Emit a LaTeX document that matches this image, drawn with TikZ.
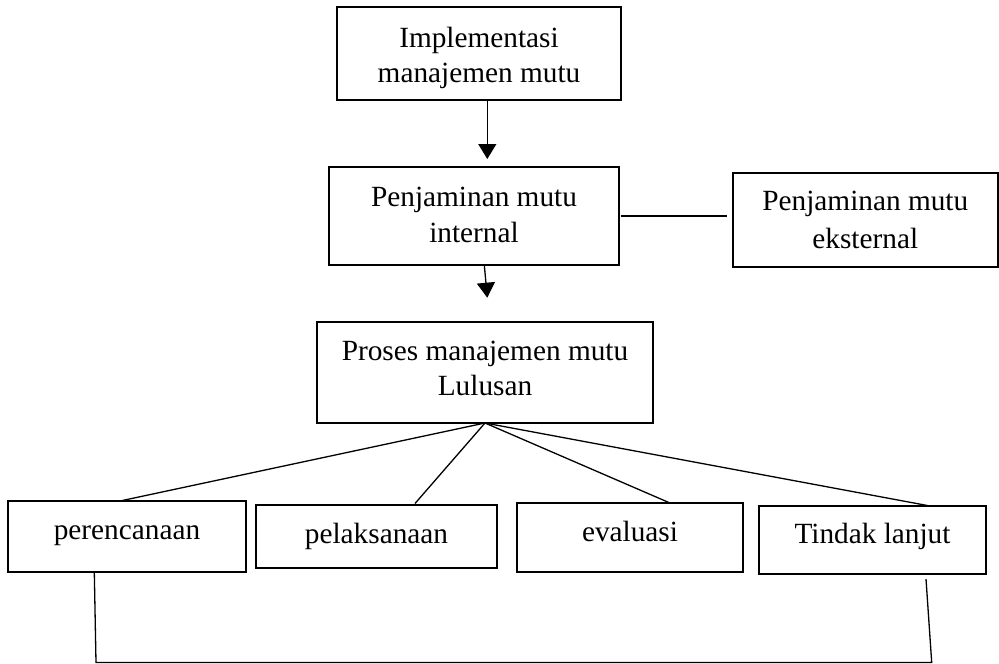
\documentclass[tikz,border=0pt]{standalone}
\usepackage{fontspec}
\setmainfont{Liberation Serif}
\usetikzlibrary{arrows.meta}
\begin{document}
\begin{tikzpicture}[x=1pt,y=-1pt,
  box/.style={draw=black,line width=1.4pt,rectangle,inner sep=0pt,outer sep=0pt,align=center,
    font=\fontsize{29.3}{36}\selectfont},
  conn/.style={draw=black,line width=1.3pt},
  arr/.style={conn,-{Triangle[length=15pt,width=18pt]}}]
\useasboundingbox (0,0) rectangle (999,664);
\fill[white] (0,0) rectangle (999,664);
% upper boxes
\node[box,minimum width=284pt,minimum height=93pt,text height=65pt,text depth=6.6pt,font=\fontsize{29.3}{35.4}\selectfont] (b1) at (479,53.5) {Implementasi\\manajemen mutu};
\node[box,minimum width=290pt,minimum height=98pt,text height=60pt,text depth=6.6pt,font=\fontsize{29.3}{36.7}\selectfont] (b2) at (474,216) {Penjaminan mutu\\internal};
\node[box,minimum width=265pt,minimum height=94pt,text height=63.2pt,text depth=6.6pt,font=\fontsize{29.3}{38.3}\selectfont] (b3) at (865.3,220) {Penjaminan mutu\\eksternal};
\node[box,minimum width=336pt,minimum height=101pt,text height=51.6pt,text depth=6.6pt,font=\fontsize{29.3}{35}\selectfont] (b4) at (485,372.5) {Proses manajemen mutu\\Lulusan};
% lower boxes
\node[box,minimum width=238pt,minimum height=71pt,text height=12pt,text depth=6.4pt] (p1) at (127,536.5) {perencanaan};
\node[box,minimum width=241pt,minimum height=63pt,text height=20pt,text depth=6.8pt] (p2) at (376.5,536.5) {pelaksanaan};
\node[box,minimum width=226pt,minimum height=69pt,text height=15pt,text depth=6.6pt] (p3) at (630,537.5) {evaluasi};
\node[box,minimum width=227pt,minimum height=68pt,text height=13pt,text depth=6.8pt] (p4) at (872.5,540) {Tindak lanjut};
% connectors
\draw[arr] ([xshift=8.3pt]b1.south) -- ([xshift=13.3pt,yshift=8pt]b2.north);
\draw[arr] ([xshift=10.3pt]b2.south) -- ([xshift=2.3pt,yshift=24.3pt]b4.north);
\draw[conn] ([xshift=1.5pt]b2.east) -- ([xshift=-6.3pt]b3.west |- b2.east);
\draw[conn] (b4.south) -- ([xshift=-7pt]p1.north);
\draw[conn] (b4.south) -- ([xshift=38.5pt,yshift=1.5pt]p2.north);
\draw[conn] (b4.south) -- ([xshift=40pt]p3.north);
\draw[conn] (b4.south) -- ([xshift=57.5pt]p4.north);
\coordinate (c1) at (96,662.5);
\coordinate (c2) at (931.7,662.5);
\draw[conn] ([xshift=-32.7pt]p1.south) -- (c1) -- (c2) -- ([xshift=53.5pt,yshift=-5pt]p4.south);
\end{tikzpicture}
\end{document}
